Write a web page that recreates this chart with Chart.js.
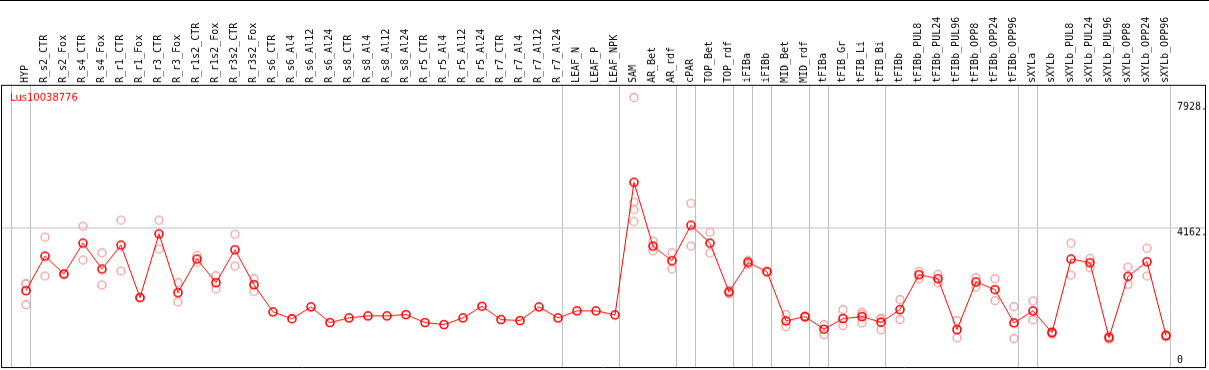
<!DOCTYPE html>
<html>
<head>
<meta charset="utf-8">
<title>Lus10038776</title>
<script src="https://cdn.jsdelivr.net/npm/chart.js"></script>
<style>
  html, body { margin: 0; padding: 0; background: #fff; }
  #chart { display: block; border-top: 1px solid #000; }
</style>
</head>
<body>
<canvas id="chart" width="1209" height="369"></canvas>
<script>
// Data
const geneName = "Lus10038776";

const categories = [
    "HYP", "R_s2_CTR", "R_s2_Fox", "R_s4_CTR", "R_s4_Fox", "R_r1_CTR", "R_r1_Fox",
    "R_r3_CTR", "R_r3_Fox", "R_r1s2_CTR", "R_r1s2_Fox", "R_r3s2_CTR", "R_r3s2_Fox",
    "R_s6_CTR", "R_s6_Al4", "R_s6_Al12", "R_s6_Al24", "R_s8_CTR", "R_s8_Al4", "R_s8_Al12",
    "R_s8_Al24", "R_r5_CTR", "R_r5_Al4", "R_r5_Al12", "R_r5_Al24", "R_r7_CTR", "R_r7_Al4",
    "R_r7_Al12", "R_r7_Al24", "LEAF_N", "LEAF_P", "LEAF_NPK", "SAM", "AR_Bet", "AR_rdf",
    "cPAR", "TOP_Bet", "TOP_rdf", "iFIBa", "iFIBb", "MID_Bet", "MID_rdf", "tFIBa",
    "tFIB_Gr", "tFIB_Li", "tFIB_Bi", "tFIBb", "tFIBb_PUL8", "tFIBb_PUL24", "tFIBb_PUL96",
    "tFIBb_OPP8", "tFIBb_OPP24", "tFIBb_OPP96", "sXYLa", "sXYLb", "sXYLb_PUL8",
    "sXYLb_PUL24", "sXYLb_PUL96", "sXYLb_OPP8", "sXYLb_OPP24", "sXYLb_OPP96"
];

const means = [
    2286, 3322, 2785, 3711, 2934, 3651, 2077, 3989, 2226, 3233, 2525, 3511, 2465,
    1649, 1445, 1799, 1330, 1470, 1530, 1530, 1569, 1330, 1270, 1470, 1817, 1419,
    1389, 1799, 1470, 1679, 1679, 1560, 5533, 3621, 3182, 4249, 3711, 2247, 3132,
    2854, 1380, 1509, 1130, 1449, 1509, 1340, 1718, 2764, 2644, 1120, 2545, 2316,
    1320, 1679, 1031, 3233, 3122, 881, 2713, 3152, 941
];

const replicates = [
    [2504, 2486, 1868], [3890, 2725], [2800, 2770], [4219, 3203], [3421, 2456],
    [4398, 2874], [2090, 2064], [4398, 3532], [2525, 1948], [3341, 3132],
    [2734, 2337], [3980, 3024], [2644, 2265], [], [], [], [], [], [], [], [], [],
    [], [], [], [], [], [], [], [], [], [],
    [8074, 4936, 4715, 4357], [3771, 3481], [3421, 2934], [4906, 3621],
    [4040, 3412], [2290, 2200], [3190, 3070], [2870, 2840], [1569, 1210],
    [1530, 1480], [1270, 971], [1718, 1240], [1637, 1320, 1580], [1460, 1440, 1111],
    [2017, 1419], [2864, 2644], [2774, 2515], [1389, 872], [2674, 2396],
    [2644, 1987], [1808, 852], [1978, 1410], [1060, 990], [3711, 2755],
    [3251, 2973], [932, 830], [2994, 2474], [3562, 2725], [970, 900]
];

// group separators (after these category indexes)
const dividers = [-1, 0, 28, 31, 34, 35, 37, 38, 39, 41, 42, 45, 52, 53, 60];

const yTicks = [0, 4162, 7928];
const yTickLabels = ["0    ", "4162.", "7928."];

const xMin = -25 / 19;
const xMax = 1179 / 19;
const yMax = 8455;

// Build points
const meanPoints = means.map((v, i) => ({ x: i, y: v }));
const repPoints = [];
replicates.forEach((reps, i) => {
    reps.forEach((v) => repPoints.push({ x: i, y: v }));
});

const monoFont = { family: "'DejaVu Sans Mono', monospace", size: 10 };

// Gene name in the plot corner
const geneTitle = {
    id: "geneTitle",
    afterDraw(chart) {
        const { ctx, chartArea } = chart;
        ctx.save();
        ctx.fillStyle = "#ff0000";
        ctx.font = "10px 'DejaVu Sans'";
        ctx.textBaseline = "middle";
        ctx.fillText(geneName, chartArea.left + 9, chartArea.top + 13);
        ctx.restore();
    }
};

new Chart(document.getElementById("chart"), {
    type: "line",
    data: {
        datasets: [
            {
                label: geneName,
                data: meanPoints,
                borderColor: "#ff0000",
                borderWidth: 1,
                tension: 0,
                pointRadius: 4,
                pointBorderWidth: 1.6,
                pointBorderColor: "#ff0000",
                pointBackgroundColor: "rgba(0,0,0,0)",
                xAxisID: "x",
                yAxisID: "y"
            },
            {
                label: "replicates",
                data: repPoints,
                showLine: false,
                pointRadius: 4,
                pointBorderWidth: 1.3,
                pointBorderColor: "#f2a0a0",
                pointBackgroundColor: "rgba(0,0,0,0)",
                xAxisID: "x",
                yAxisID: "y"
            }
        ]
    },
    options: {
        responsive: false,
        animation: false,
        layout: { autoPadding: false, padding: { left: 1, right: 4, top: 0, bottom: 2 } },
        plugins: {
            legend: { display: false },
            tooltip: { enabled: false }
        },
        scales: {
            x: {
                type: "linear",
                position: "top",
                min: xMin,
                max: xMax,
                afterBuildTicks: (s) => {
                    s.ticks = categories.map((c, i) => ({ value: i }));
                },
                afterFit: (s) => {
                    s.height = 84;
                    s.paddingLeft = 0;
                    s.paddingRight = 0;
                },
                grid: { display: false, drawTicks: false },
                border: { display: true, color: "#000" },
                ticks: {
                    autoSkip: false,
                    maxRotation: 90,
                    minRotation: 90,
                    padding: 2,
                    labelOffset: 11,
                    font: monoFont,
                    color: "#000",
                    callback: (v) => categories[v]
                }
            },
            xg: {
                type: "linear",
                position: "bottom",
                min: xMin,
                max: xMax,
                afterBuildTicks: (s) => {
                    s.ticks = dividers.map((d) => ({ value: d + 0.25 }));
                },
                afterFit: (s) => {
                    s.height = 0;
                    s.paddingLeft = 0;
                    s.paddingRight = 0;
                },
                ticks: { display: false },
                grid: { color: "#c0c0c0", drawTicks: false },
                border: { display: true, color: "#000" }
            },
            y: {
                type: "linear",
                position: "right",
                min: 0,
                max: yMax,
                afterBuildTicks: (s) => {
                    s.ticks = yTicks.map((v) => ({ value: v }));
                },
                afterFit: (s) => {
                    s.width = 0;
                    s.paddingTop = 0;
                    s.paddingBottom = 0;
                },
                grid: {
                    drawTicks: false,
                    color: (c) => (c.tick && c.tick.value === 4162 ? "#c0c0c0" : "rgba(0,0,0,0)")
                },
                border: { display: true, color: "#000" },
                ticks: {
                    mirror: true,
                    padding: 2,
                    labelOffset: 5,
                    font: monoFont,
                    color: "#000",
                    callback: (v) => {
                        const k = yTicks.indexOf(v);
                        return k === 0 ? [yTickLabels[0], "", ""] : yTickLabels[k];
                    }
                }
            },
            yl: {
                type: "linear",
                position: "left",
                afterFit: (s) => {
                    s.width = 0;
                    s.paddingTop = 0;
                    s.paddingBottom = 0;
                },
                ticks: { display: false },
                grid: { display: false, drawTicks: false },
                border: { display: true, color: "#000" }
            }
        }
    },
    plugins: [geneTitle]
});
</script>
</body>
</html>
